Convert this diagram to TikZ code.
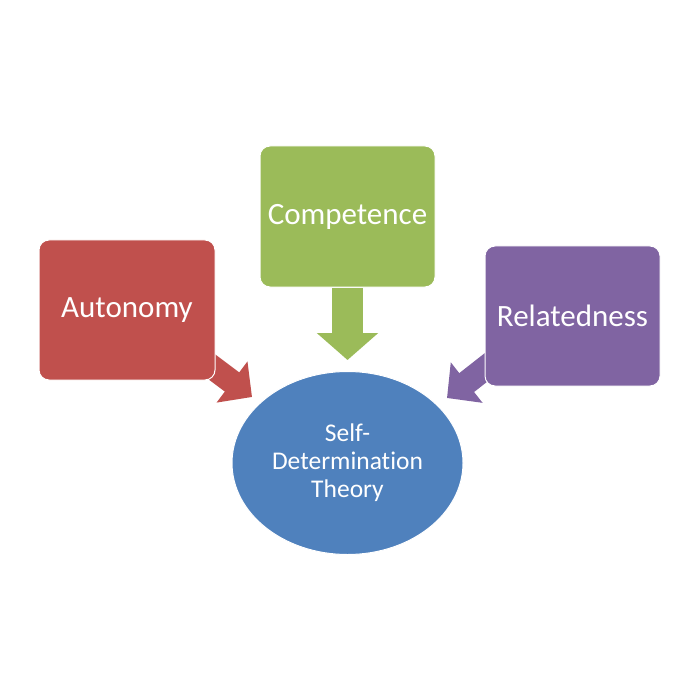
\documentclass[tikz,border=0pt]{standalone}
\usepackage{fontspec}
\setmainfont{Carlito}[Ligatures={NoCommon}]
\usetikzlibrary{arrows.meta,shapes.geometric,backgrounds}
\definecolor{cred}{HTML}{C0504D}
\definecolor{cgreen}{HTML}{9BBB59}
\definecolor{cpurple}{HTML}{8064A2}
\definecolor{cblue}{HTML}{4F81BD}
\tikzset{
  box/.style={rectangle, rounded corners=10pt, draw=white, line width=1pt,
    text=white, font=\fontsize{31}{37}\selectfont, inner sep=0pt},
  fatarrow/.style={line width=24pt, -{Triangle[width=50pt,length=25pt]}},
  fatarrowv/.style={line width=31pt, -{Triangle[width=60pt,length=27pt]}},
}
\begin{document}
\begin{tikzpicture}[x=1pt,y=-1pt]
\useasboundingbox (0,0) rectangle (700,700);
\node[box, fill=cred, minimum width=176pt, minimum height=140pt] (aut) at (127,310) {Autonomy};
\node[box, fill=cgreen, minimum width=175pt, minimum height=141pt] (cmp) at (347.5,216.5) {Competence};
\node[box, fill=cpurple, minimum width=175pt, minimum height=140pt] (rel) at (572.5,316) {Relatedness};
\node[ellipse, fill=cblue, draw=white, line width=1pt, minimum width=231pt, minimum height=183pt,
  text=white, align=center, font=\fontsize{25.5}{28}\selectfont, inner sep=0pt] (sdt) at (347.5,463)
  {Self-\\Determination\\Theory};
\coordinate (autS) at (200,358);
\coordinate (autT) at (252,397);
\coordinate (cmpT) at (347.5,360);
\coordinate (relS) at (498,358);
\coordinate (relT) at (447,398);
\begin{pgfonlayer}{background}
\fill[white] (0,0) rectangle (700,700);
\draw[fatarrow, cred] (autS) -- (autT);
\draw[fatarrowv, cgreen] (cmp.south) -- (cmpT);
\draw[fatarrow, cpurple] (relS) -- (relT);
\end{pgfonlayer}
\end{tikzpicture}
\end{document}
